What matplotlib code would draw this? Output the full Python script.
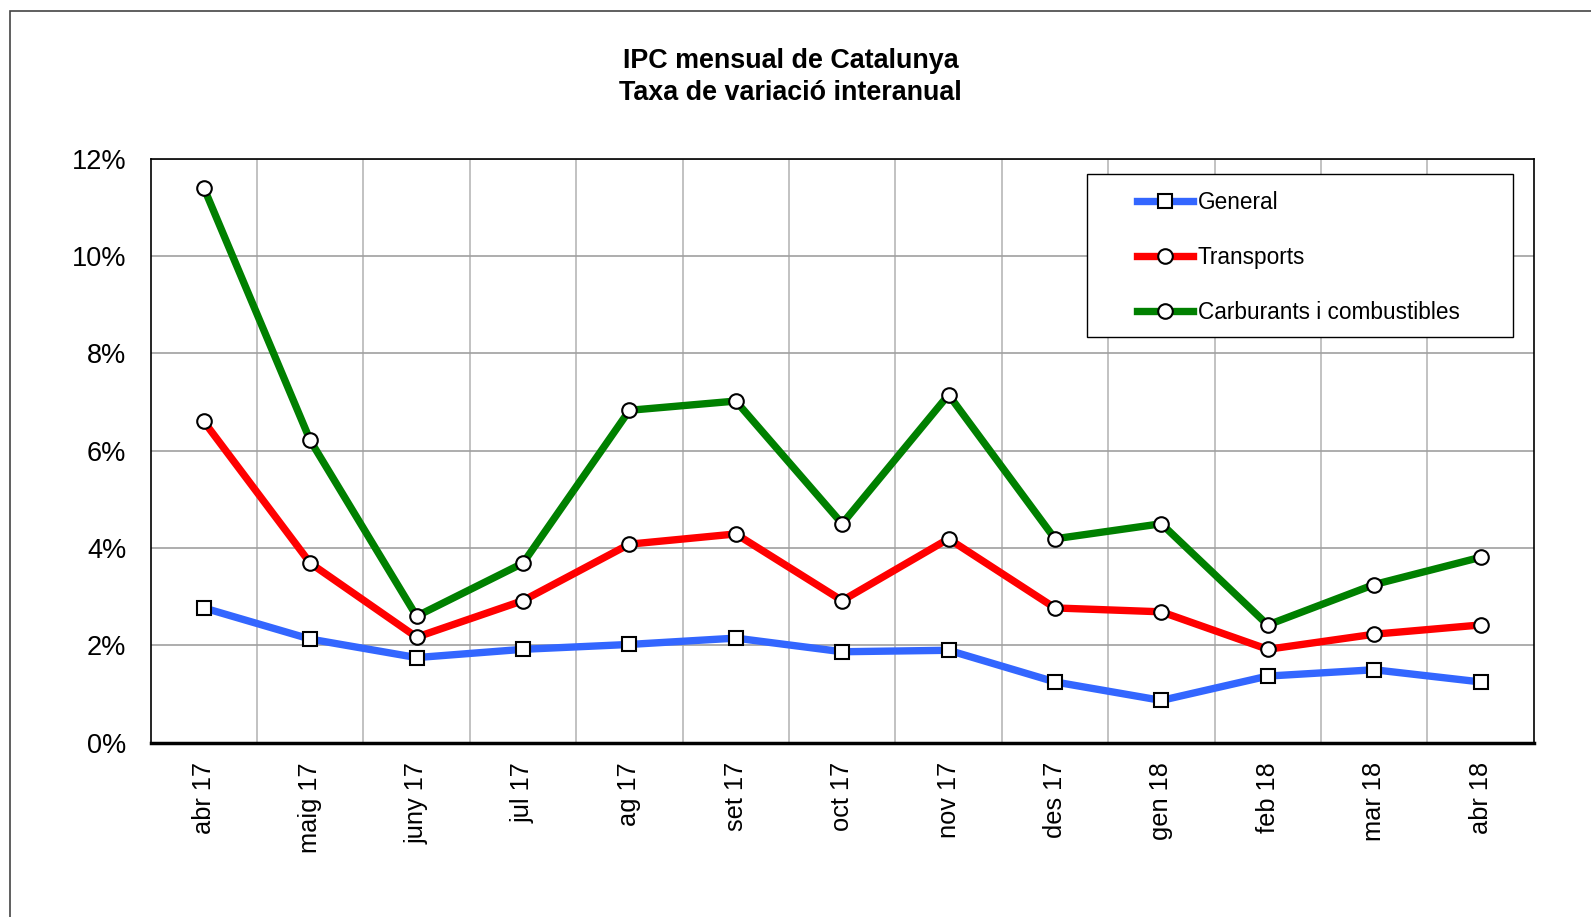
import matplotlib
matplotlib.use("Agg")
import matplotlib.pyplot as plt
import numpy as np
from matplotlib.patches import Rectangle

plt.rcParams["font.family"] = ["Liberation Sans", "DejaVu Sans"]

months = ["abr 17", "maig 17", "juny 17", "jul 17", "ag 17", "set 17", "oct 17",
          "nov 17", "des 17", "gen 18", "feb 18", "mar 18", "abr 18"]
general = [2.77, 2.13, 1.75, 1.92, 2.02, 2.15, 1.87, 1.9, 1.25, 0.87, 1.37, 1.5, 1.25]
transports = [6.6, 3.69, 2.17, 2.92, 4.08, 4.29, 2.92, 4.19, 2.77, 2.69, 1.92, 2.23, 2.42]
carburants = [11.4, 6.21, 2.6, 3.69, 6.83, 7.02, 4.5, 7.15, 4.19, 4.5, 2.42, 3.25, 3.81]

W, H = 1591, 917
fig = plt.figure(figsize=(W / 100, H / 100), dpi=100)
ax = fig.add_axes([0.0947, 0.190, 0.8693, 0.637])

# outer chart border (right and bottom fall outside the picture)
fig.patches.append(Rectangle((9.5 / W, -0.05), 1.1, 1 - 11 / H + 0.05,
                             transform=fig.transFigure, fill=False,
                             edgecolor="#444444", linewidth=1.2))
# legend box
fig.patches.append(Rectangle((1087 / W, 1 - 337 / H), (1513 - 1087) / W, (337 - 174) / H,
                             transform=fig.transFigure, fill=True, facecolor="white",
                             edgecolor="black", linewidth=1.0, zorder=4))

x = np.arange(len(months))
ax.plot(x, general, color="#3366ff", lw=5.3, marker="s", ms=10, mfc="white",
        mec="black", mew=1.5, label="General", zorder=3)
ax.plot(x, transports, color="#ff0000", lw=5.3, marker="o", ms=10.5, mfc="white",
        mec="black", mew=1.5, label="Transports", zorder=3)
ax.plot(x, carburants, color="#008000", lw=5.3, marker="o", ms=10.5, mfc="white",
        mec="black", mew=1.5, label="Carburants i combustibles", zorder=3)

ax.set_xlim(-0.5, len(months) - 0.5)
ax.set_ylim(0, 12)
ax.set_yticks(np.arange(0, 13, 2))
ax.set_yticklabels([f"{v}%" for v in range(0, 13, 2)], fontsize=19.5)
ax.set_xticks(x)
ax.set_xticklabels(months, rotation=90, fontsize=18.3)
ax.set_xticks(np.arange(0.5, len(months) - 1, 1), minor=True)
ax.tick_params(axis="both", which="both", length=0)
ax.tick_params(axis="x", pad=14)
ax.tick_params(axis="y", pad=17.5)
ax.grid(axis="y", which="major", color="#a0a0a0", lw=1.2)
ax.grid(axis="x", which="minor", color="#b8b8b8", lw=1.2)
ax.grid(axis="x", which="major", visible=False)
ax.set_axisbelow(True)

for s in ["left", "top", "right"]:
    ax.spines[s].set_color("black")
    ax.spines[s].set_linewidth(1.2)
ax.spines["bottom"].set_linewidth(2.5)

fig.text(0.497, 1 - 77 / H, "IPC mensual de Catalunya\nTaxa de variació interanual",
         ha="center", va="center", fontsize=19.4, fontweight="bold", linespacing=1.3)

leg = fig.legend(handles=ax.get_lines(), loc="upper left",
                 bbox_to_anchor=(1136.5 / W, 1 - 191 / H),
                 fontsize=16.3, frameon=False, handlelength=2.5,
                 handletextpad=0.2, labelspacing=1.42, borderpad=0,
                 borderaxespad=0)
leg.set_zorder(5)

fig.savefig("out.png", dpi=100)
